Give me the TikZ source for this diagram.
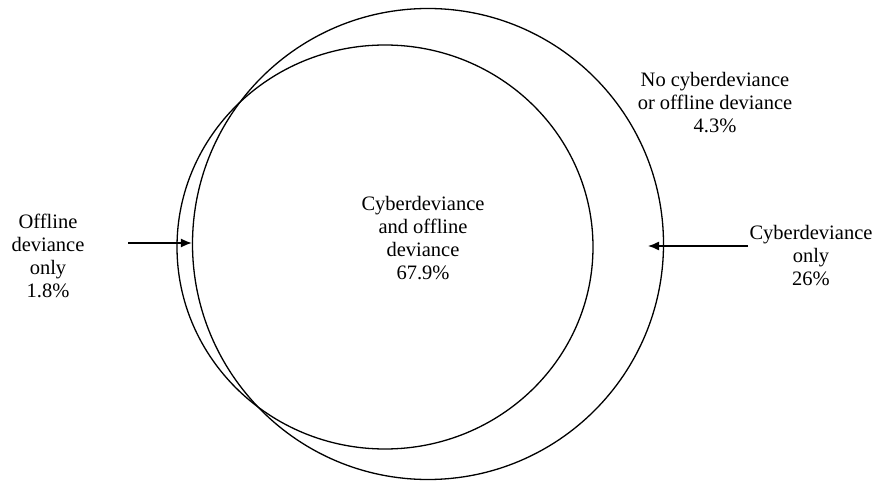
\documentclass[tikz,border=0pt]{standalone}
\usepackage{fontspec}
\setmainfont{Liberation Serif}
\usepackage{tikz}
\usetikzlibrary{arrows.meta,positioning,shapes.geometric}

\begin{document}
\begin{tikzpicture}[x=1pt, y=-1pt,
    ring/.style={draw, line width=1.3pt, inner sep=0pt},
    lbl/.style={align=center, font=\fontsize{20.5}{23}\selectfont},
    arr/.style={line width=1.3pt, -{Latex[length=11pt, width=9pt]}}]
  \useasboundingbox (0,0) rectangle (884,481);
  % Circles
  \node[ring, circle, minimum size=471pt] (cyber) at (428,244) {};
  \node[ring, ellipse, minimum width=416pt, minimum height=404pt] (offline) at (385,247) {};
  % Labels
  \node[lbl] (both) at (423,238) {Cyberdeviance\\and offline\\deviance\\67.9\%};
  \node[lbl] (none) at (715,103) {No cyberdeviance\\or offline deviance\\4.3\%};
  \node[lbl] (cyberonly) at (811,256) {Cyberdeviance\\only\\26\%};
  \node[lbl] (offlonly) at (48,256) {Offline\\deviance\\only\\1.8\%};
  % Arrows
  \coordinate (ltail) at (128,243);
  \draw[arr] (ltail) -- (ltail -| cyber.west);
  \coordinate (rtail) at (748,246);
  \coordinate (rtip) at (648,246);
  \draw[arr] (rtail) -- (rtip);
\end{tikzpicture}
\end{document}
